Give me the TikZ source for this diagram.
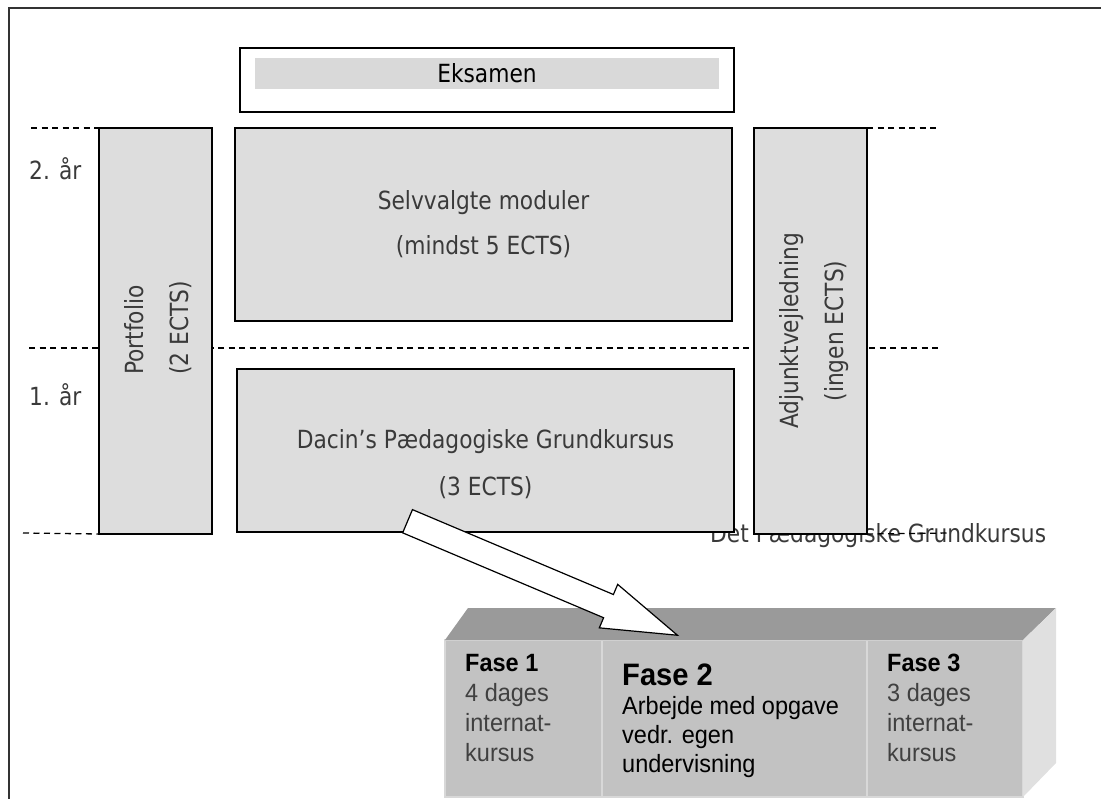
\documentclass[tikz,border=0pt]{standalone}
\usepackage{fontspec}
\setmainfont{DejaVu Sans}[FakeStretch=0.87]
\newfontfamily\blokfont{Liberation Sans}[FakeStretch=0.94]
\usepackage{tikz}
\usepackage{xcolor}
\usetikzlibrary{positioning, shapes.arrows}

\definecolor{kassegraa}{HTML}{DDDDDD}
\definecolor{barregraa}{HTML}{D9D9D9}
\definecolor{tekstgraa}{HTML}{3A3A3A}
\definecolor{frontgraa}{HTML}{C2C2C2}
\definecolor{topgraa}{HTML}{9A9A9A}
\definecolor{sidegraa}{HTML}{E0E0E0}
\definecolor{delelinje}{HTML}{D8D8D8}
\definecolor{fasegraa}{HTML}{404040}

\begin{document}
\begin{tikzpicture}[x=1pt, y=-1pt,
	kasse/.style={draw, line width=1.5pt, fill=kassegraa, inner sep=0pt, outer sep=0pt},
	kassetekst/.style={text=tekstgraa, align=center, inner sep=0pt, font=\fontsize{25}{45}\selectfont},
	skille/.style={line width=1.3pt, dash pattern=on 6pt off 4.5pt},
	front/.style={draw=delelinje, line width=1.5pt, fill=frontgraa, minimum height=157, inner sep=0pt, outer sep=0pt},
	fasetekst/.style={anchor=north west, align=left, inner sep=0pt, font=\blokfont\fontsize{25}{30}\selectfont},
	pil/.style={single arrow, draw, fill=white, line width=1.2pt, inner xsep=0pt, inner ysep=12pt, minimum height=293, single arrow head extend=11pt, single arrow tip angle=35, single arrow head indent=0pt}]
	\useasboundingbox (0,0) rectangle (1101,799);
	% ramme
	\draw[line width=2pt, black!80] (1101,8) -- (9,8) -- (9,799);
	% eksamen
	\node[draw, line width=1.5pt, fill=white, minimum width=494, minimum height=64, inner sep=0pt] (eksamen) at (487,80) {};
	\node[fill=barregraa, minimum width=464, minimum height=31, inner sep=0pt, font=\fontsize{25}{30}\selectfont] (eksamenbar) at (487,73.5) {Eksamen};
	% aar
	\node[anchor=base west, inner sep=0pt, text=tekstgraa, font=\fontsize{25}{30}\selectfont] (aar2) at (29,180) {2. år};
	\node[anchor=base west, inner sep=0pt, text=tekstgraa, font=\fontsize{25}{30}\selectfont] (aar1) at (29,406) {1. år};
	% midterste skillelinje under kasserne
	\draw[skille] (29,348) -- (938,348);
	\node[anchor=base west, inner sep=0pt, text=tekstgraa, font=\fontsize{25}{30}\selectfont] (grundkursus) at (710,542) {Det Pædagogiske Grundkursus};
	% kasser
	\node[kasse, minimum width=113, minimum height=406] (portfolio) at (155.5,331) {};
	\node[kassetekst, rotate=90, align=left] (portfoliotekst) at (158,328) {Portfolio\\(2 ECTS)};
	\node[kasse, minimum width=497, minimum height=193] (moduler) at (483.5,224.5) {};
	\node[kassetekst] (modulertekst) at (483.5,224.5) {Selvvalgte moduler\\(mindst 5 ECTS)};
	\node[kasse, minimum width=497, minimum height=163] (dacin) at (485.5,450.5) {};
	\node[kassetekst, font=\fontsize{25}{47}\selectfont] (dacintekst) at (485.5,464) {Dacin’s Pædagogiske Grundkursus\\(3 ECTS)};
	\node[kasse, minimum width=113, minimum height=406] (adjunkt) at (810.5,331) {};
	\node[kassetekst, rotate=90] (adjunkttekst) at (814,331) {Adjunktvejledning\\(ingen ECTS)};
	% oevre og nedre skillelinjer
	\draw[skille] (31,128) -- (portfolio.north west);
	\draw[skille] (adjunkt.north east) -- (938,128);
	\draw[skille] (23,533) -- (portfolio.south west);
	\draw[skille] (adjunkt.south east) -- (950,533);
	% blok med faser, forside
	\node[front, minimum width=157] (fase1) at (523.5,718.5) {};
	\node[front, minimum width=265, right=0pt of fase1] (fase2) {};
	\node[front, minimum width=156, right=0pt of fase2] (fase3) {};
	% top og side
	\fill[topgraa] (fase1.north west) -- ++(23,-32) -- ++(588,0) -- (fase3.north east) -- cycle;
	\fill[sidegraa] (fase3.north east) -- ++(33,-32) -- ++(0,155) -- (fase3.south east) -- cycle;
	% fase tekster
	\node[fasetekst, text=fasegraa] (tekst1) at (465,654) {\textcolor{black}{\fontsize{25}{30}\selectfont\bfseries Fase 1}\\4 dages\\internat-\\kursus};
	\node[fasetekst, font=\blokfont\fontsize{25}{29}\selectfont] (tekst2) at (622,664) {{\fontsize{31}{31}\selectfont\bfseries Fase 2}\\Arbejde med opgave\\vedr. egen\\undervisning};
	\node[fasetekst, text=fasegraa] (tekst3) at (887,654) {\textcolor{black}{\fontsize{25}{30}\selectfont\bfseries Fase 3}\\3 dages\\internat-\\kursus};
	% pil
	\node[pil, rotate=-22.9, anchor=tail] (pil) at (407,521) {};
\end{tikzpicture}
\end{document}
